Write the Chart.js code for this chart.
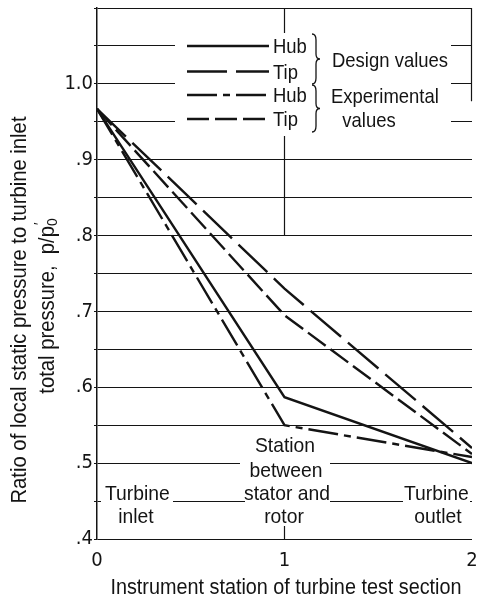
<!DOCTYPE html>
<html>
<head>
<meta charset="utf-8">
<title>Turbine static pressure ratio</title>
<script src="https://cdn.jsdelivr.net/npm/chart.js@4.4.0/dist/chart.umd.min.js"></script>
<style>
  html, body { margin: 0; padding: 0; background: #fff; }
  canvas { display: block; }
</style>
</head>
<body>
<canvas id="chart" width="479" height="596"></canvas>
<script>
// Instrument stations: 0 = turbine inlet, 1 = between stator and rotor, 2 = turbine outlet
const stations = [0, 1, 2];
const designHub = [0.967, 0.587, 0.500];
const designTip = [0.967, 0.730, 0.520];
const expHub = [0.967, 0.550, 0.508];
const expTip = [0.967, 0.695, 0.512];

const yTickValues = [0.4, 0.5, 0.6, 0.7, 0.8, 0.9, 1.0];
const yTickText = ['.4', '.5', '.6', '.7', '.8', '.9', '1.0'];
const xTickText = ['0', '1', '2'];

const INK = '#141414';
const tickFont = { family: '"Liberation Sans Narrow", "DejaVu Sans Condensed", sans-serif', size: 20 };

function toPoints(values) {
    return stations.map((s, i) => ({ x: s, y: values[i] }));
}

// condensed text: Liberation Sans squeezed horizontally
function text(ctx, str, x, y, align, size, squeeze, bg) {
    const k = squeeze || 0.88;
    ctx.save();
    ctx.font = (size || 21) + 'px "Liberation Sans", Arial, sans-serif';
    const w = ctx.measureText(str).width * k;
    let left = x;
    if (align === 'center') left = x - w / 2;
    if (align === 'right') left = x - w;
    if (bg) {
        ctx.fillStyle = '#fff';
        ctx.fillRect(bg[0], y - 17, bg[1] - bg[0], 21);
    }
    ctx.translate(left, y);
    ctx.scale(k, 1);
    ctx.fillStyle = INK;
    ctx.textAlign = 'left';
    ctx.textBaseline = 'alphabetic';
    ctx.fillText(str, 0, 0);
    ctx.restore();
    return w;
}

function brace(ctx, x, y1, y2) {
    const ym = (y1 + y2) / 2;
    ctx.beginPath();
    ctx.moveTo(x, y1);
    ctx.quadraticCurveTo(x + 4, y1, x + 4, y1 + 6);
    ctx.lineTo(x + 4, ym - 5);
    ctx.quadraticCurveTo(x + 4, ym, x + 8, ym);
    ctx.quadraticCurveTo(x + 4, ym, x + 4, ym + 5);
    ctx.lineTo(x + 4, y2 - 6);
    ctx.quadraticCurveTo(x + 4, y2, x, y2);
    ctx.stroke();
}

// frame pieces and the station-1 reference line
const framePlugin = {
    id: 'frame',
    beforeDatasetsDraw(chart) {
        const { ctx, chartArea: a, scales: { x, y } } = chart;
        const x1 = x.getPixelForValue(1);
        ctx.save();
        ctx.strokeStyle = INK;
        ctx.lineWidth = 1.2;
        ctx.beginPath();
        ctx.moveTo(x1, a.top);
        ctx.lineTo(x1, y.getPixelForValue(0.8));
        ctx.moveTo(x1, a.bottom);
        ctx.lineTo(x1, a.bottom - 13);
        ctx.moveTo(a.right - 0.5, a.top);
        ctx.lineTo(a.right - 0.5, y.getPixelForValue(0.977));
        ctx.stroke();
        ctx.restore();
    }
};

// key, station labels and axis titles
const notesPlugin = {
    id: 'notes',
    afterDraw(chart) {
        const { ctx } = chart;
        ctx.save();

        // key
        ctx.fillStyle = '#fff';
        ctx.fillRect(175, 33, 276, 103);
        const rows = [46, 71.5, 95, 119];
        const names = ['Hub', 'Tip', 'Hub', 'Tip'];
        chart.data.datasets.forEach((ds, i) => {
            ctx.save();
            ctx.strokeStyle = INK;
            ctx.lineWidth = ds.borderWidth;
            ctx.setLineDash(ds.borderDash || []);
            ctx.beginPath();
            ctx.moveTo(187, rows[i]);
            ctx.lineTo(269, rows[i]);
            ctx.stroke();
            ctx.restore();
            text(ctx, names[i], 273, rows[i] + 7);
        });
        ctx.strokeStyle = INK;
        ctx.lineWidth = 1.3;
        brace(ctx, 312, 34, 84);
        brace(ctx, 312, 85, 132);
        text(ctx, 'Design values', 332, 67);
        text(ctx, 'Experimental', 331, 103);
        text(ctx, 'values', 369, 127, 'center');

        // station names along the bottom
        text(ctx, 'Turbine', 105, 500, 'left', 21, 0.92, [101, 173]);
        text(ctx, 'inlet', 136, 523, 'center', 21, 0.92);
        text(ctx, 'Station', 285, 452, 'center', 21, 0.92);
        text(ctx, 'between', 286, 477, 'center', 21, 0.92, [240, 330]);
        text(ctx, 'stator and', 287, 500, 'center', 21, 0.92, [245, 330]);
        text(ctx, 'rotor', 284, 523, 'center', 21, 0.92);
        text(ctx, 'Turbine', 404, 500, 'left', 21, 0.92, [403, 470]);
        text(ctx, 'outlet', 438, 523, 'center', 21, 0.92);

        // axis titles
        text(ctx, 'Instrument station of turbine test section', 286, 594, 'center', 22, 0.9);

        ctx.save();
        ctx.translate(26, 310);
        ctx.rotate(-Math.PI / 2);
        text(ctx, 'Ratio of local static pressure to turbine inlet', 0, 0, 'center', 22, 0.92);
        ctx.restore();

        ctx.save();
        ctx.translate(54, 306);
        ctx.rotate(-Math.PI / 2);
        const main = 'total pressure,  p/p';
        ctx.font = '22px "Liberation Sans", Arial, sans-serif';
        const wMain = ctx.measureText(main).width * 0.92;
        ctx.font = '15px "Liberation Sans", Arial, sans-serif';
        const wSub = ctx.measureText('0').width * 0.92;
        const start = -(wMain + wSub) / 2;
        text(ctx, main, start, 0, 'left', 22, 0.92);
        text(ctx, '0', start + wMain, 3, 'left', 15, 0.92);
        text(ctx, '\u2032', start + wMain + 1, -10, 'left', 15, 0.92);
        ctx.restore();

        ctx.restore();
    }
};

const line = (label, values, dash) => ({
    label,
    data: toPoints(values),
    borderColor: INK,
    borderWidth: 2.4,
    borderDash: dash,
    pointRadius: 0,
    tension: 0,
    fill: false
});

new Chart(document.getElementById('chart'), {
    type: 'line',
    data: {
        datasets: [
            line('Design values, hub', designHub, []),
            line('Design values, tip', designTip, [40, 9]),
            line('Experimental values, hub', expHub, [30, 6, 7, 6]),
            line('Experimental values, tip', expTip, [22, 6])
        ]
    },
    options: {
        responsive: false,
        animation: false,
        layout: { padding: { top: 8, right: 7, left: 0, bottom: 0 } },
        plugins: {
            legend: { display: false },
            tooltip: { enabled: false }
        },
        scales: {
            x: {
                type: 'linear',
                min: 0,
                max: 2,
                ticks: {
                    stepSize: 1,
                    padding: 10,
                    color: INK,
                    font: tickFont,
                    maxRotation: 0,
                    callback: v => xTickText[stations.indexOf(v)] ?? ''
                },
                grid: { display: false, drawTicks: false },
                border: { display: false },
                afterFit: s => {
                    s.height = 57;
                    s.paddingLeft = 0;
                    s.paddingRight = 0;
                }
            },
            y: {
                min: 0.4,
                max: 1.1,
                ticks: {
                    stepSize: 0.05,
                    maxTicksLimit: 20,
                    autoSkip: false,
                    padding: 1,
                    color: INK,
                    font: tickFont,
                    callback: v => {
                        const i = yTickValues.findIndex(t => Math.abs(t - v) < 1e-6);
                        return i < 0 ? '' : yTickText[i];
                    }
                },
                grid: { color: INK, lineWidth: 1, tickLength: 3 },
                border: { display: true, color: INK, width: 1.5 },
                afterFit: s => {
                    s.width = 97;
                    s.paddingTop = 0;
                    s.paddingBottom = 0;
                }
            }
        }
    },
    plugins: [framePlugin, notesPlugin]
});
</script>
</body>
</html>
